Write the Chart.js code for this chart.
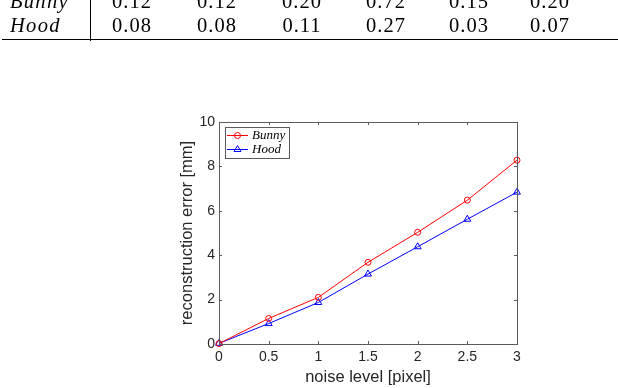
<!DOCTYPE html>
<html>
<head>
<meta charset="utf-8">
<script src="https://cdn.jsdelivr.net/npm/chart.js@4.4.1/dist/chart.umd.min.js"></script>
<style>
  html, body { margin: 0; padding: 0; background: #fff; }
  #wrap { position: relative; width: 618px; height: 388px; overflow: hidden; }
  #chart { position: absolute; left: 0; top: 0; }
  .cell { position: absolute; font-family: 'Liberation Serif', serif; font-size: 20.5px; line-height: 20px;
          color: #000; white-space: nowrap; letter-spacing: 1px; }
  .name { font-style: italic; letter-spacing: 1.3px; }
</style>
</head>
<body>
<div id="wrap">
  <canvas id="chart" width="618" height="388"></canvas>
  <div id="table"></div>
  <div style="position:absolute;left:90px;top:0;width:1px;height:41px;background:#000"></div>
  <div style="position:absolute;left:2px;top:39px;width:616px;height:1.3px;background:#000"></div>
</div>
<script>
// table rows (cut off at the top of the page)
const tableRows = ['Bunny', 'Hood'];
const tableBunny = ['0.12', '0.12', '0.20', '0.72', '0.15', '0.20'];
const tableHood = ['0.08', '0.08', '0.11', '0.27', '0.03', '0.07'];

// chart data
const noiseLevels = [0, 0.5, 1, 1.5, 2, 2.5, 3];
const bunnyErr = [0.02, 1.15, 2.1, 3.68, 5.03, 6.48, 8.28];
const hoodErr = [0.03, 0.92, 1.87, 3.15, 4.38, 5.62, 6.84];

// ---- table as html text
const colCenters = [132, 217, 302, 386, 469, 550];
const rowTops = [-9, 15];
const tbl = document.getElementById('table');
[tableBunny, tableHood].forEach((vals, r) => {
    const nm = document.createElement('div');
    nm.className = 'cell name';
    nm.style.left = '10px';
    nm.style.top = rowTops[r] + 'px';
    nm.textContent = tableRows[r];
    tbl.appendChild(nm);
    vals.forEach((v, c) => {
        const d = document.createElement('div');
        d.className = 'cell';
        d.style.top = rowTops[r] + 'px';
        d.style.left = (colCenters[c] - 25) + 'px';
        d.style.width = '50px';
        d.style.textAlign = 'center';
        d.textContent = v;
        tbl.appendChild(d);
    });
});

const AXIS = '#5a5a5a';

// box + inside ticks (matlab style)
const boxPlugin = {
    id: 'box',
    afterDatasetsDraw(chart) {
        const { ctx, chartArea: a, scales } = chart;
        ctx.save();
        ctx.strokeStyle = AXIS;
        ctx.lineWidth = 1;
        ctx.strokeRect(a.left + 0.5, a.top + 0.5, a.right - a.left, a.bottom - a.top);
        ctx.beginPath();
        scales.x.ticks.forEach(t => {
            const x = Math.round(scales.x.getPixelForValue(t.value)) + 0.5;
            ctx.moveTo(x, a.bottom); ctx.lineTo(x, a.bottom - 3);
            ctx.moveTo(x, a.top); ctx.lineTo(x, a.top + 3);
        });
        scales.y.ticks.forEach(t => {
            const y = Math.round(scales.y.getPixelForValue(t.value)) + 0.5;
            ctx.moveTo(a.left, y); ctx.lineTo(a.left + 3, y);
            ctx.moveTo(a.right, y); ctx.lineTo(a.right - 3, y);
        });
        ctx.stroke();
        ctx.restore();
    }
};

// legend box in the upper left corner
const legendPlugin = {
    id: 'boxLegend',
    afterDraw(chart) {
        const { ctx, chartArea: a } = chart;
        const x0 = a.left + 6, y0 = a.top + 5;
        ctx.save();
        ctx.fillStyle = '#fff';
        ctx.fillRect(x0, y0, 64, 31);
        ctx.strokeStyle = AXIS;
        ctx.lineWidth = 1;
        ctx.strokeRect(x0 + 0.5, y0 + 0.5, 64, 31);
        chart.data.datasets.forEach((ds, i) => {
            const y = y0 + 8.5 + i * 14;
            ctx.strokeStyle = ds.borderColor;
            ctx.lineWidth = 1;
            ctx.beginPath();
            ctx.moveTo(x0 + 2, y); ctx.lineTo(x0 + 23, y);
            ctx.stroke();
            ctx.fillStyle = 'rgba(0,0,0,0)';
            Chart.helpers.drawPoint(ctx, { pointStyle: ds.pointStyle, radius: ds.pointRadius, rotation: 0, borderWidth: 1 }, x0 + 12.5, y);
            ctx.fillStyle = '#000';
            ctx.font = 'italic 13px "Liberation Serif"';
            ctx.textBaseline = 'middle';
            ctx.fillText(ds.label, x0 + 27, y + 0.5);
        });
        ctx.restore();
    }
};

const tickFont = { family: 'Liberation Sans', size: 14 };
const titleFont = { family: 'Liberation Sans', size: 16.5 };

new Chart(document.getElementById('chart').getContext('2d'), {
    type: 'line',
    data: {
        datasets: [
            {
                label: 'Bunny'
                ,data: noiseLevels.map((x, i) => ({ x, y: bunnyErr[i] }))
                ,borderColor: '#ff0000'
                ,borderWidth: 1
                ,pointStyle: 'circle'
                ,pointRadius: 3
                ,pointBorderWidth: 1
                ,pointBackgroundColor: 'rgba(0,0,0,0)'
                ,pointBorderColor: '#ff0000'
                ,clip: false
            },
            {
                label: 'Hood'
                ,data: noiseLevels.map((x, i) => ({ x, y: hoodErr[i] }))
                ,borderColor: '#0000ff'
                ,borderWidth: 1
                ,pointStyle: 'triangle'
                ,pointRadius: 4
                ,pointBorderWidth: 1
                ,pointBackgroundColor: 'rgba(0,0,0,0)'
                ,pointBorderColor: '#0000ff'
                ,clip: false
            }
        ]
    },
    options: {
        responsive: false,
        animation: false,
        layout: { padding: { left: 0, right: 101, top: 122, bottom: 0 } },
        plugins: { legend: { display: false }, tooltip: { enabled: false } },
        elements: { line: { tension: 0 } },
        scales: {
            x: {
                type: 'linear', min: 0, max: 3,
                ticks: { stepSize: 0.5, color: '#262626', font: tickFont, padding: 5, maxRotation: 0,
                         callback: (v) => String(v) },
                grid: { display: false, drawTicks: false },
                border: { display: false },
                title: { display: true, text: 'noise level [pixel]', color: '#262626', font: titleFont, padding: { top: 0, bottom: 0.5 } },
                afterFit: (s) => { s.height = 44; }
            },
            y: {
                min: 0, max: 10,
                ticks: { stepSize: 2, color: '#262626', font: tickFont, padding: 4 },
                grid: { display: false, drawTicks: false },
                border: { display: false },
                title: { display: true, text: 'reconstruction error [mm]', color: '#262626', font: titleFont, padding: { top: 178, bottom: 0 } },
                afterFit: (s) => { s.width = 219; }
            }
        }
    },
    plugins: [boxPlugin, legendPlugin]
});
</script>
</body>
</html>
